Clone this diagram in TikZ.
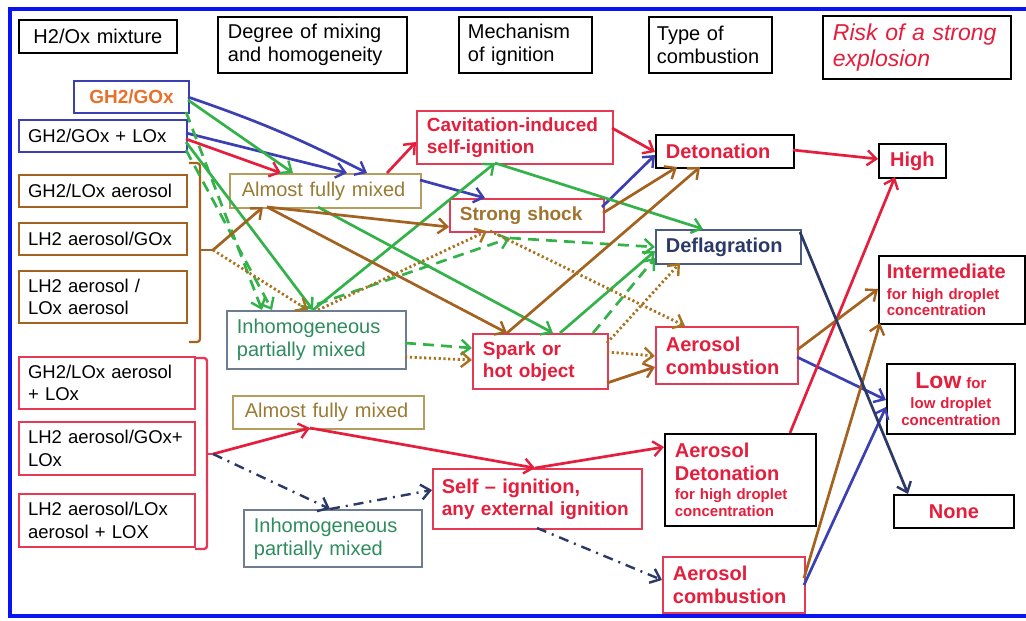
\documentclass[tikz,border=0pt]{standalone}
\usepackage{fontspec}
\setmainfont{Liberation Sans}
\usetikzlibrary{arrows.meta,calc}
\definecolor{cRed}{HTML}{E41E3C}
\definecolor{cBoxRed}{HTML}{E43A55}
\definecolor{cBlue}{HTML}{3B3FB2}
\definecolor{cGreen}{HTML}{34B24A}
\definecolor{cBrown}{HTML}{A3621F}
\definecolor{cDot}{HTML}{A8721F}
\definecolor{cNavy}{HTML}{2A3966}
\definecolor{cNavyBox}{HTML}{4B5B82}
\definecolor{cOrange}{HTML}{E8702A}
\definecolor{cTan}{HTML}{B59D5E}
\definecolor{cOlive}{HTML}{9A7B34}
\definecolor{cShock}{HTML}{A0742E}
\definecolor{cTeal}{HTML}{2E8C5E}
\definecolor{cGrey}{HTML}{6F7D93}
\definecolor{cFrame}{HTML}{0A14F0}
\newcommand\fM{\fontsize{20}{23}\selectfont}
\newcommand\fL{\fontsize{18.5}{22.5}\selectfont}
\newcommand\fB{\bfseries\fontsize{19}{22}\selectfont}
\newcommand\fC{\bfseries\fontsize{20}{23}\selectfont}
\newcommand\fS{\bfseries\fontsize{15}{16.5}\selectfont}
\newcommand\fRisk{\itshape\fontsize{23}{26}\selectfont}
\begin{document}
\begin{tikzpicture}[x=1pt,y=-1pt,
  bx/.style={draw, line width=1.8pt, anchor=north west, inner xsep=10pt, inner ysep=0pt, align=left, fill=white, text=black},
  lbx/.style={bx, line width=2.1pt, inner xsep=9pt, font=\fL},
  ar/.style={line width=2.7pt, -{Straight Barb[length=9pt,width=15pt,line width=2.4pt]}},
  dsh/.style={ar, dash pattern=on 11pt off 7pt},
  dts/.style={ar, line width=2.8pt, dash pattern=on 2.2pt off 2.6pt},
  ddt/.style={ar, line width=2.4pt, dash pattern=on 10pt off 6pt on 2pt off 6pt}
]
\useasboundingbox (0,0) rectangle (1026,621);
\fill[white] (0,0) rectangle (1026,621);
\draw[cFrame, line width=4.5pt] (1030,9) -- (10,9) -- (10,616) -- (1030,616);

% headers
\node[bx, minimum width=158pt, minimum height=33pt, text width=138pt, align=center, font=\fM] (hA) at (18,19) {H2/Ox mixture};
\node[bx, minimum width=189pt, minimum height=56pt, text width=169pt, font=\fM] (hB) at (217,16) {Degree of mixing\\and homogeneity};
\node[bx, minimum width=133pt, minimum height=56pt, text width=115pt, inner xsep=9pt, font=\fM] (hC) at (458,16) {Mechanism\\of ignition};
\node[bx, minimum width=123pt, minimum height=56pt, text width=107pt, inner xsep=8pt, font=\fM] (hD) at (648,16) {Type of\\combustion};
\node[bx, minimum width=188pt, minimum height=63pt, text width=168pt, font=\fRisk, text=cRed] (hE) at (822,15) {Risk of a strong\\explosion};

% left column
\node[lbx, draw=cBlue, text=cOrange, font=\fB, align=center, minimum width=115pt, minimum height=32pt, text width=97pt] (l1) at (73,80) {GH2/GOx};
\node[lbx, draw=cBlue, minimum width=168pt, minimum height=32pt, text width=150pt] (l2) at (18,119) {GH2/GOx + LOx};
\node[lbx, draw=cBrown, minimum width=168pt, minimum height=32pt, text width=150pt] (l3) at (18,174) {GH2/LOx aerosol};
\node[lbx, draw=cBrown, minimum width=168pt, minimum height=32pt, text width=150pt] (l4) at (18,222) {LH2 aerosol/GOx};
\node[lbx, draw=cBrown, minimum width=168pt, minimum height=52pt, text width=150pt] (l5) at (18,270) {LH2 aerosol /\\LOx aerosol};
\node[lbx, draw=cBoxRed, minimum width=176pt, minimum height=52pt, text width=158pt] (l6) at (18,356) {GH2/LOx aerosol\\+ LOx};
\node[lbx, draw=cBoxRed, minimum width=176pt, minimum height=53pt, text width=158pt] (l7) at (18,421) {LH2 aerosol/GOx+\\LOx};
\node[lbx, draw=cBoxRed, minimum width=176pt, minimum height=53pt, text width=158pt] (l8) at (18,493) {LH2 aerosol/LOx\\aerosol + LOX};

% brackets
\draw[cBrown, line width=2.2pt, rounded corners=3pt] (189,163) -- (200,163) -- (200,342) -- (189,342);
\draw[cBrown, line width=2.2pt] (200,250) -- (213,250);
\coordinate (brB) at (213,250);
\draw[cBoxRed, line width=2.4pt, rounded corners=3pt] (195,358) -- (207,358) -- (207,549) -- (195,549);
\draw[cBoxRed, line width=2.4pt] (207,454) -- (213,454);
\coordinate (rB) at (213,454);

% mixing
\node[bx, draw=cTan, text=cOlive, font=\fM, inner xsep=12pt, minimum width=191pt, minimum height=34pt, text width=167pt] (m1) at (229,173) {Almost fully mixed};
\node[bx, draw=cGrey, text=cTeal, font=\fM, minimum width=179pt, minimum height=58pt, text width=159pt] (m2) at (226,310) {Inhomogeneous\\partially mixed};
\node[bx, draw=cTan, text=cOlive, font=\fM, inner xsep=12pt, minimum width=191pt, minimum height=33pt, text width=167pt] (m3) at (232,395) {Almost fully mixed};
\node[bx, draw=cGrey, text=cTeal, font=\fM, minimum width=178pt, minimum height=57pt, text width=158pt] (m4) at (243,509) {Inhomogeneous\\partially mixed};

% mechanism
\node[bx, draw=cBoxRed, text=cRed, font=\fB, minimum width=196pt, minimum height=53pt, text width=176pt] (c1) at (416,110) {Cavitation-induced\\self-ignition};
\node[bx, draw=cBoxRed, text=cShock, font=\fB, minimum width=154pt, minimum height=33pt, text width=134pt] (c2) at (449,198) {Strong shock};
\node[bx, draw=cBoxRed, text=cRed, font=\fB, minimum width=135pt, minimum height=55pt, text width=115pt] (c3) at (472,333) {Spark or\\hot object};
\node[bx, draw=cBoxRed, text=cRed, font=\fB, inner xsep=9pt, minimum width=209pt, minimum height=60pt, text width=191pt] (c4) at (432,468) {{\fontsize{20}{22}\selectfont Self – ignition,}\\any external ignition};

% combustion
\node[bx, draw=black, text=cRed, font=\fC, minimum width=138pt, minimum height=33pt, text width=118pt] (t1) at (655,134) {Detonation};
\node[bx, draw=cNavyBox, text=cNavy, font=\fC, minimum width=145pt, minimum height=34pt, text width=125pt] (t2) at (655,229) {Deflagration};
\node[bx, draw=cBoxRed, text=cRed, font=\fC, minimum width=142pt, minimum height=57pt, text width=122pt] (t3) at (655,326) {Aerosol\\combustion};
\node[bx, draw=black, text=cRed, font=\fS, minimum width=151pt, minimum height=92pt, text width=131pt] (t4) at (664,433) {{\fC Aerosol}\\[6pt]{\fC Detonation}\\[3pt]for high droplet\\concentration};
\node[bx, draw=cBoxRed, text=cRed, font=\fC, minimum width=142pt, minimum height=56pt, text width=122pt] (t5) at (662,556) {Aerosol\\combustion};

% risk
\node[bx, draw=black, text=cRed, font=\fC, align=center, inner xsep=4pt, minimum width=67pt, minimum height=34pt, text width=59pt] (r1) at (878,143) {High};
\node[bx, draw=black, text=cRed, font=\fS, inner xsep=8pt, minimum width=146pt, minimum height=68pt, text width=130pt] (r2) at (878,255) {{\fC Intermediate}\\[4pt]for high droplet\\concentration};
\node[bx, draw=black, text=cRed, font=\fS, align=center, inner xsep=6pt, minimum width=128pt, minimum height=70pt, text width=116pt] (r3) at (886,363) {{\fontsize{23}{24}\selectfont Low} for\\[4pt]low droplet\\concentration};
\node[bx, draw=black, text=cRed, font=\fC, align=center, inner xsep=8pt, minimum width=120pt, minimum height=33pt, text width=104pt] (r4) at (893,494) {None};

\coordinate (j1) at ($(c2.north west)+(61,40)$);

% blue
\draw[ar, cBlue] ($(l1.north west)+(115,17)$) to[bend left=4] ($(m1.north west)+(138,0)$);
\draw[ar, cBlue] ($(l2.north west)+(168,14)$) -- ($(m1.north west)+(118,0)$);
\draw[ar, cBlue] ($(m1.north west)+(191,7)$) -- ($(c2.north west)+(36,0)$);
\draw[ar, cBlue] ($(c2.north west)+(153,9)$) -- ($(t1.north west)+(0,21)$);
\draw[ar, cBlue] ($(t3.north west)+(142,31)$) -- ($(r3.north west)+(0,37)$);
\draw[ar, cBlue] ($(t5.north west)+(142,29)$) -- ($(r3.north west)+(0,44)$);
% red
\draw[ar, cRed] ($(l2.north west)+(168,20)$) -- ($(m1.north west)+(52,0)$);
\draw[ar, cRed] ($(m1.north west)+(158,0)$) -- ($(c1.north west)+(0,32)$);
\draw[ar, cRed] ($(c1.north west)+(196,18)$) -- ($(t1.north west)+(0,18)$);
\draw[ar, cRed] ($(t1.north west)+(138,16)$) -- ($(r1.north west)+(0,16)$);
\draw[ar, cRed] (rB) -- ($(m3.north west)+(78,33)$);
\draw[ar, cRed] ($(m3.north west)+(78,33)$) -- ($(c4.north west)+(103,0)$);
\draw[ar, cRed] ($(c4.north west)+(103,0)$) -- ($(t4.north west)+(0,14)$);
\draw[ar, cRed] ($(t4.north west)+(126,0)$) -- ($(r1.north west)+(17,34)$);
% green
\draw[ar, cGreen] ($(l1.north west)+(115,20)$) -- ($(m1.north west)+(64,0)$);
\draw[ar, cGreen] ($(l2.north west)+(168,23)$) -- ($(m2.north west)+(87,0)$);
\draw[ar, cGreen] ($(m1.north west)+(89,34)$) -- ($(c3.north west)+(81,0)$);
\draw[ar, cGreen] ($(m2.north west)+(87,0)$) -- ($(c1.north west)+(79,53)$);
\draw[ar, cGreen] ($(c1.north west)+(79,53)$) -- ($(t2.north west)+(48,0)$);
\draw[ar, cGreen] ($(c3.north west)+(88,0)$) -- ($(t2.north west)+(0,22)$);
\draw[dsh, cGreen] ($(l1.north west)+(113,32)$) -- ($(m2.north west)+(36,0)$);
\draw[dsh, cGreen] ($(l2.north west)+(168,31)$) -- ($(m2.north west)+(46,0)$);
\draw[dsh, cGreen] ($(m2.north west)+(74,0)$) -- (j1);
\draw[dsh, cGreen] (j1) -- ($(t2.north west)+(0,18)$);
\draw[dsh, cGreen] ($(m2.north west)+(179,33)$) -- ($(c3.north west)+(0,15)$);
\draw[dsh, cGreen] ($(c3.north west)+(121,0)$) -- ($(t2.north west)+(0,29)$);
% brown
\draw[ar, cBrown] (brB) -- ($(m1.north west)+(34,34)$);
\draw[ar, cBrown] ($(m1.north west)+(38,34)$) -- ($(c2.north west)+(0,29)$);
\draw[ar, cBrown] ($(m1.north west)+(38,34)$) -- ($(c3.north west)+(35,0)$);
\draw[ar, cBrown] ($(c2.north west)+(154,15)$) -- ($(t1.north west)+(22,33)$);
\draw[ar, cBrown] ($(c3.north west)+(35,0)$) -- ($(t1.north west)+(45,33)$);
\draw[ar, cBrown] ($(c3.north west)+(135,50)$) -- ($(t3.north west)+(0,41)$);
\draw[ar, cBrown] ($(t3.north west)+(142,24)$) -- ($(r2.north west)+(0,34)$);
\draw[ar, cBrown] ($(t5.north west)+(142,22)$) -- ($(r2.north west)+(2,68)$);
\draw[dts, cDot] (brB) -- ($(m2.north west)+(82,0)$);
\draw[dts, cDot] ($(m2.north west)+(92,0)$) -- ($(c2.north west)+(38,33)$);
\draw[dts, cDot] ($(c2.north west)+(41,33)$) -- ($(t3.north west)+(30,0)$);
\draw[dts, cDot] ($(m2.north west)+(179,47)$) -- ($(c3.north west)+(0,27)$);
\draw[dts, cDot] ($(c3.north west)+(135,19)$) -- ($(t3.north west)+(0,30)$);
\draw[dts, cDot] ($(c3.north west)+(135,10)$) -- ($(t2.north west)+(25,34)$);
% navy
\draw[ar, cNavy] ($(t2.north west)+(145,3)$) -- ($(r4.north west)+(15,0)$);
\draw[ddt, cNavy] (rB) -- ($(m4.north west)+(87,0)$);
\draw[ddt, cNavy] ($(m4.north west)+(87,0)$) -- ($(c4.north west)+(0,22)$);
\draw[ddt, cNavy] ($(c4.north west)+(105,60)$) -- ($(t5.north west)+(0,24)$);
\end{tikzpicture}
\end{document}
